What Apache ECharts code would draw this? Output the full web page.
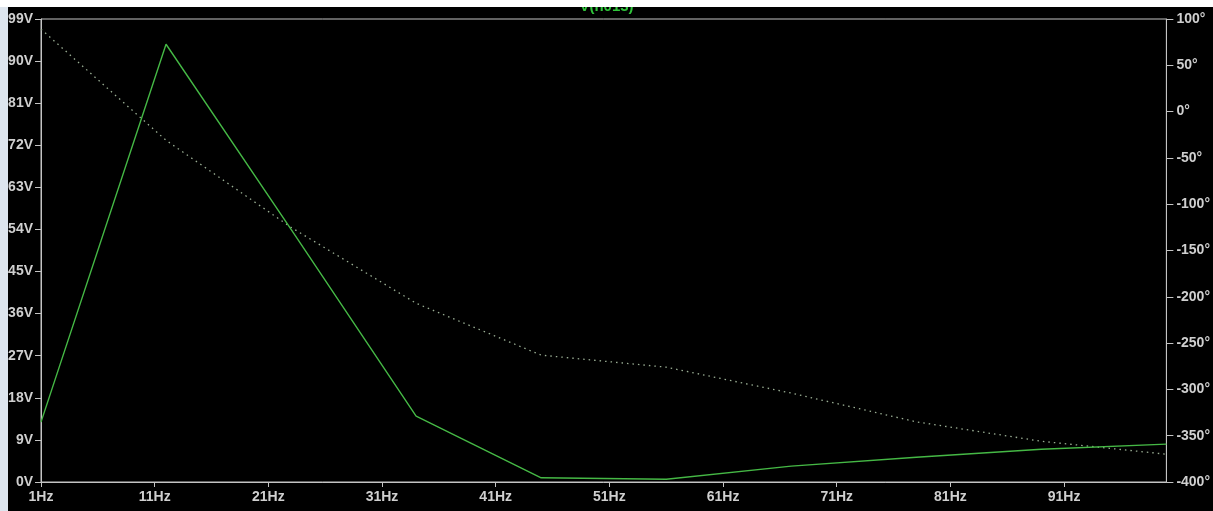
<!DOCTYPE html>
<html>
<head>
<meta charset="utf-8">
<title>V(n013)</title>
<script src="https://cdn.jsdelivr.net/npm/echarts@6/dist/echarts.min.js"></script>
<style>
  html, body { margin: 0; padding: 0; background: #000; }
  #chart { width: 1213px; height: 511px; }
</style>
</head>
<body>
<div id="chart"></div>
<script>
// Frequency sweep points (Hz)
const freqs = [1, 12, 23, 34, 45, 56, 67, 78, 89, 100];
// Magnitude of V(n013), volts
const magnitude = [12.8, 93.6, 54.0, 14.1, 0.9, 0.6, 3.4, 5.3, 7.0, 8.1];
// Phase of V(n013), degrees
const phase = [89, -31, -125, -207, -263, -276, -304, -335, -356, -370];
// Frequency axis tick positions
const freqTicks = [1, 11, 21, 31, 41, 51, 61, 71, 81, 91];

const title = 'V(n013)';
const labelFont = '"Liberation Sans", Arial, sans-serif';
const axisGrey = '#c4c4c4';
const labelGrey = '#cfcfcf';

const chart = echarts.init(document.getElementById('chart'), null, { renderer: 'canvas' });

chart.setOption({
  backgroundColor: '#000000',
  animation: false,
  grid: {
    left: 41, right: 45, top: 19, bottom: 29,
    show: true, borderColor: axisGrey, borderWidth: 1, backgroundColor: '#000'
  },
  xAxis: {
    type: 'value',
    min: 1, max: 100,
    splitLine: { show: false },
    axisLine: { lineStyle: { color: axisGrey, width: 1 } },
    axisTick: { show: true, length: 5, customValues: freqTicks, lineStyle: { color: axisGrey } },
    axisLabel: {
      customValues: freqTicks,
      formatter: v => v + 'Hz',
      color: labelGrey, fontFamily: labelFont, fontWeight: 'bold', fontSize: 14, margin: 8
    }
  },
  yAxis: [
    {
      type: 'value', position: 'left',
      min: 0, max: 99, interval: 9,
      splitLine: { show: false },
      axisLine: { show: true, lineStyle: { color: axisGrey } },
      axisTick: { show: true, length: 6, lineStyle: { color: axisGrey } },
      axisLabel: {
        formatter: v => v + 'V',
        color: labelGrey, fontFamily: labelFont, fontWeight: 'bold', fontSize: 14, margin: 8
      }
    },
    {
      type: 'value', position: 'right',
      min: -400, max: 100, interval: 50,
      splitLine: { show: false },
      axisLine: { show: true, lineStyle: { color: axisGrey } },
      axisTick: { show: true, length: 7, lineStyle: { color: axisGrey } },
      axisLabel: {
        formatter: v => v + '°',
        color: labelGrey, fontFamily: labelFont, fontWeight: 'bold', fontSize: 14, margin: 10
      }
    }
  ],
  series: [
    {
      name: 'phase', type: 'line', yAxisIndex: 1,
      data: freqs.map((f, i) => [f, phase[i]]),
      showSymbol: false,
      lineStyle: { color: '#9aae94', width: 1.3, type: [1.5, 4] },
      z: 2
    },
    {
      name: 'magnitude', type: 'line', yAxisIndex: 0,
      data: freqs.map((f, i) => [f, magnitude[i]]),
      showSymbol: false,
      lineStyle: { color: '#45b845', width: 1.4 },
      z: 3
    }
  ],
  graphic: [
    {
      type: 'text', left: 'center', top: -1, z: 10,
      style: { text: title, fill: '#2fc43a', font: 'bold 15px ' + labelFont }
    },
    { type: 'rect', left: 0, top: 0, z: 20, shape: { width: 1213, height: 7 }, style: { fill: '#ffffff' } },
    { type: 'rect', left: 0, top: 0, z: 19, shape: { width: 8, height: 511 }, style: { fill: '#dde5ee' } }
  ]
});
</script>
</body>
</html>
